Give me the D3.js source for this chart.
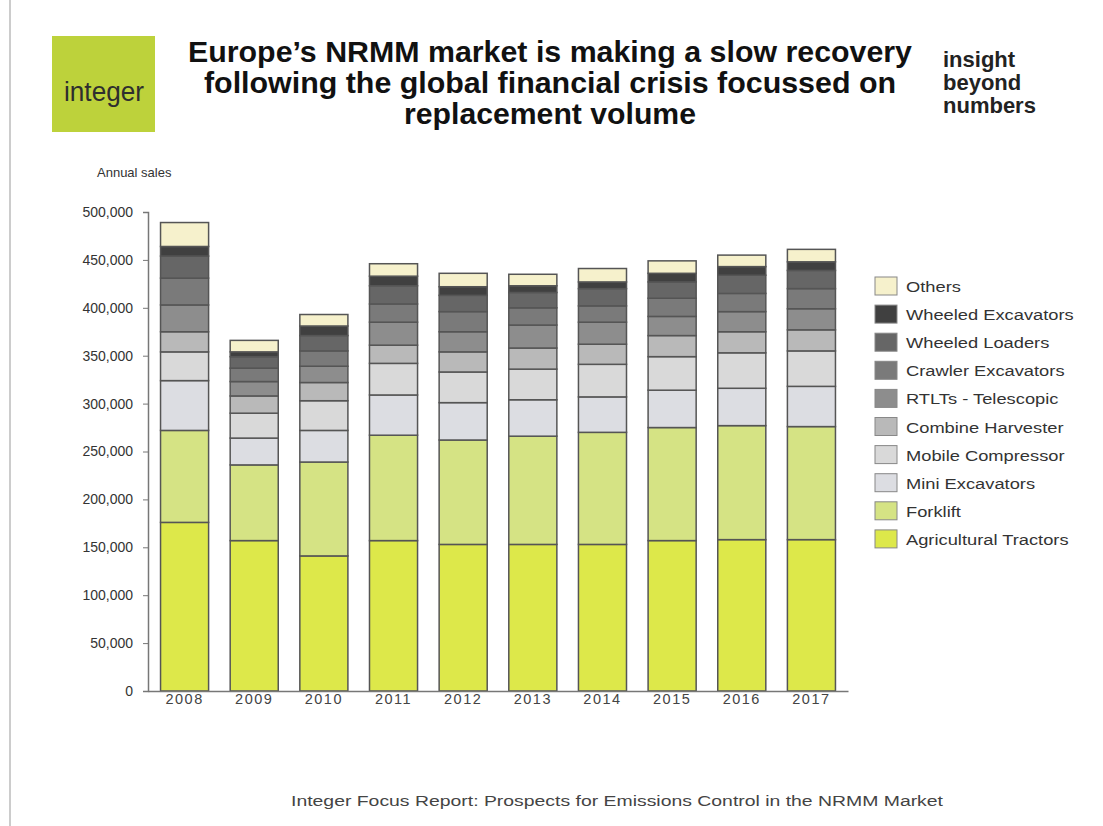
<!DOCTYPE html>
<html>
<head>
<meta charset="utf-8">
<script src="https://cdn.jsdelivr.net/npm/d3@7"></script>
<style>
  body { margin: 0; background: #fff; }
  text { font-family: "Liberation Sans", Arial, sans-serif; }
</style>
</head>
<body>
<div class="canvas"></div>
<script>
// data (thousands of units)
const years = ['2008', '2009', '2010', '2011', '2012', '2013', '2014', '2015', '2016', '2017'];
const series = ['Agricultural Tractors', 'Forklift', 'Mini Excavators', 'Mobile Compressor',
    'Combine Harvester', 'RTLTs - Telescopic', 'Crawler Excavators', 'Wheeled Loaders',
    'Wheeled Excavators', 'Others'];
const tractors    = [176, 157, 141, 157, 153, 153, 153, 157, 158, 158];
const forklift    = [96, 79, 98, 110, 109, 113, 117, 118, 119, 118];
const miniExc     = [52, 28, 33, 42, 39, 38, 37, 39, 39, 42];
const mobileComp  = [30, 26, 31, 33, 32, 32, 34, 35, 37, 37];
const combine     = [21, 18, 19, 19, 21, 22, 21, 22, 22, 22];
const rtlt        = [28, 15, 17, 24, 21, 24, 23, 20, 21, 22];
const crawler     = [28, 14, 16, 19, 21, 18, 17, 19, 19, 21];
const wLoaders    = [23, 12, 16, 19, 17, 16, 18, 17, 19, 19];
const wExc        = [10, 5, 10, 10, 9, 7, 7, 9, 9, 9];
const others      = [25, 12, 12, 13, 14, 12, 14, 13, 12, 13];
const yTicks = [0, 50000, 100000, 150000, 200000, 250000, 300000, 350000, 400000, 450000, 500000];

const colors = ['#dde84a', '#d5e384', '#dcdde2', '#d9d9d9', '#b9b9b9',
    '#8d8d8d', '#7a7a7a', '#666666', '#404040', '#f6f1cc'];

const cols = [tractors, forklift, miniExc, mobileComp, combine, rtlt, crawler, wLoaders, wExc, others];
const table = years.map((yr, i) => {
    const row = { year: yr };
    series.forEach((s, j) => row[s] = cols[j][i] * 1000);
    return row;
});

const svg = d3.select('.canvas')
    .append('svg')
        .attr('width', 1103)
        .attr('height', 826);

// frame line on the left
svg.append('line')
    .attr('x1', 10).attr('x2', 10).attr('y1', 0).attr('y2', 826)
    .attr('stroke', '#bbb').attr('stroke-width', 1.5);

// header
svg.append('rect')
    .attr('x', 52).attr('y', 36).attr('width', 103).attr('height', 96)
    .attr('fill', '#bdd23b');
svg.append('text')
    .attr('x', 104).attr('y', 101)
    .attr('text-anchor', 'middle')
    .attr('font-size', 27)
    .attr('fill', '#2e2e2e')
    .attr('textLength', 80)
    .attr('lengthAdjust', 'spacingAndGlyphs')
    .text('integer');

const titleLines = ['Europe\u2019s NRMM market is making a slow recovery',
    'following the global financial crisis focussed on',
    'replacement volume'];
const titleWidths = [724, 692, 292];
svg.append('g').selectAll('text')
    .data(titleLines)
    .enter().append('text')
        .attr('x', 550)
        .attr('y', (d, i) => 62 + i * 31)
        .attr('text-anchor', 'middle')
        .attr('font-size', 29)
        .attr('font-weight', 'bold')
        .attr('fill', '#111')
        .attr('textLength', (d, i) => titleWidths[i])
        .attr('lengthAdjust', 'spacingAndGlyphs')
        .text(d => d);

svg.append('g').selectAll('text')
    .data(['insight', 'beyond', 'numbers'])
    .enter().append('text')
        .attr('x', 943)
        .attr('y', (d, i) => 67 + i * 23)
        .attr('font-size', 22)
        .attr('font-weight', 'bold')
        .attr('fill', '#222')
        .text(d => d);

// create margins and dimensions
const margin = { top: 212, left: 148 };
const graphWidth = 700;
const graphHeight = 479;

const graph = svg.append('g')
    .attr('transform', `translate(${margin.left}, ${margin.top})`);

const x = d3.scaleBand()
    .domain(years)
    .range([0, graphWidth])
    .paddingInner(0.31)
    .paddingOuter(0.18);

const y = d3.scaleLinear()
    .domain([0, 500000])
    .range([graphHeight, 0]);

const stack = d3.stack().keys(series);
const layers = stack(table);

graph.selectAll('g.layer')
    .data(layers)
    .enter().append('g')
        .attr('class', 'layer')
        .attr('fill', (d, i) => colors[i])
    .selectAll('rect')
    .data(d => d)
    .enter().append('rect')
        .attr('x', d => x(d.data.year))
        .attr('y', d => y(d[1]))
        .attr('width', x.bandwidth())
        .attr('height', d => y(d[0]) - y(d[1]))
        .attr('stroke', '#555')
        .attr('stroke-width', 1.5);

// axes
const yAxis = d3.axisLeft(y)
    .tickValues(yTicks)
    .tickSize(5)
    .tickFormat(d3.format(','));
const yAxisGroup = graph.append('g').call(yAxis);
yAxisGroup.select('.domain').attr('stroke', '#777').attr('stroke-width', 1.5);
yAxisGroup.selectAll('line').attr('stroke', '#777');
yAxisGroup.selectAll('text')
    .attr('font-size', 14)
    .attr('fill', '#333')
    .attr('x', -15);

const xAxis = d3.axisBottom(x).tickSize(0).tickPadding(3);
const xAxisGroup = graph.append('g')
    .attr('transform', `translate(0, ${graphHeight})`)
    .call(xAxis);
xAxisGroup.select('.domain').attr('stroke', '#777').attr('stroke-width', 1.5);
xAxisGroup.selectAll('text')
    .attr('font-family', 'DejaVu Sans')
    .attr('font-size', 14.5)
    .attr('letter-spacing', 1.5)
    .attr('fill', '#444');

svg.append('text')
    .attr('x', 97).attr('y', 177)
    .attr('font-size', 13)
    .attr('fill', '#333')
    .text('Annual sales');

// legend (top entry = Others)
const legendItems = series.map((s, i) => ({ name: s, color: colors[i] })).reverse();
const legend = svg.append('g').attr('transform', 'translate(875, 277)');
const li = legend.selectAll('g')
    .data(legendItems)
    .enter().append('g')
        .attr('transform', (d, i) => `translate(0, ${i * 28.1})`);
li.append('rect')
    .attr('width', 22).attr('height', 18)
    .attr('fill', d => d.color)
    .attr('stroke', '#888').attr('stroke-width', 1);
li.append('text')
    .attr('transform', 'translate(31, 15) scale(1.22, 1)')
    .attr('font-size', 15)
    .attr('fill', '#333')
    .text(d => d.name);

// footer
svg.append('text')
    .attr('x', 291).attr('y', 806)
    .attr('font-size', 15.5)
    .attr('fill', '#444')
    .attr('textLength', 652)
    .attr('lengthAdjust', 'spacingAndGlyphs')
    .text('Integer Focus Report: Prospects for Emissions Control in the NRMM Market');
</script>
</body>
</html>
